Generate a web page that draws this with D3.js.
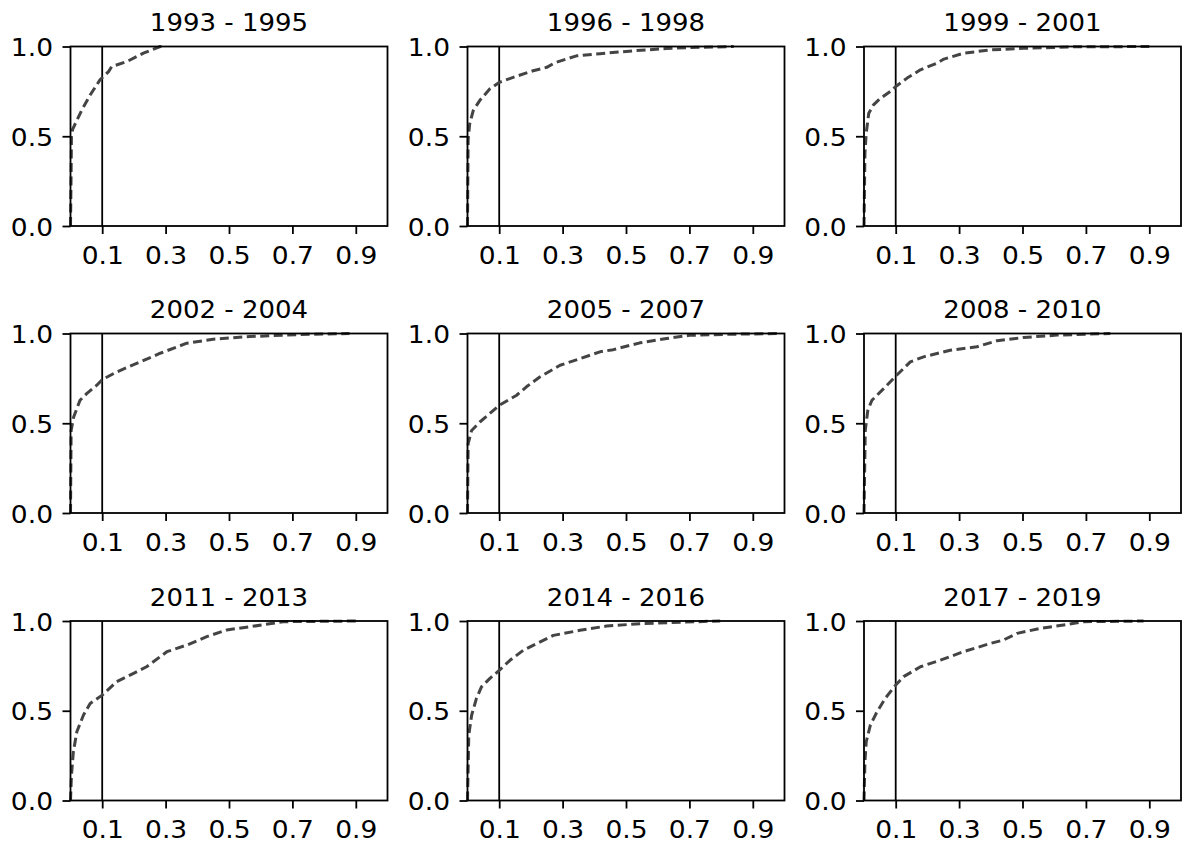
<!DOCTYPE html>
<html>
<head>
<meta charset="utf-8">
<script src="https://cdn.jsdelivr.net/npm/d3@7"></script>
<style>
  html, body { margin: 0; padding: 0; background: #fff; }
  svg { display: block; }
  text { font-family: "DejaVu Sans", sans-serif; fill: #000; }
</style>
</head>
<body>
<svg id="chart" width="1184" height="848"></svg>
<script>
// ---- data ----
const periods = ["1993 - 1995", "1996 - 1998", "1999 - 2001",
                 "2002 - 2004", "2005 - 2007", "2008 - 2010",
                 "2011 - 2013", "2014 - 2016", "2017 - 2019"];

const xTicks = [0.1, 0.3, 0.5, 0.7, 0.9];
const yTicks = [0.0, 0.5, 1.0];
const threshold = 0.1;

// CDF curves: [x, cumulative share]
const cdf1993 = [[0,0],[0.002,0.30],[0.003,0.50],[0.007,0.54],[0.036,0.647],[0.062,0.73],[0.093,0.814],[0.12,0.86],[0.13,0.888],[0.178,0.916],[0.23,0.963],[0.283,1.0],[0.30,1.0]];
const cdf1996 = [[0,0],[0.002,0.48],[0.007,0.57],[0.018,0.643],[0.039,0.70],[0.07,0.763],[0.1,0.80],[0.144,0.828],[0.207,0.865],[0.25,0.884],[0.276,0.91],[0.344,0.948],[0.418,0.96],[0.523,0.976],[0.628,0.989],[0.70,0.994],[0.84,1.0]];
const cdf1999 = [[0,0],[0.003,0.405],[0.007,0.517],[0.015,0.628],[0.03,0.675],[0.052,0.712],[0.083,0.749],[0.1,0.777],[0.136,0.824],[0.178,0.87],[0.23,0.907],[0.252,0.93],[0.315,0.963],[0.4,0.981],[0.504,0.99],[0.66,0.998],[0.9,1.0]];
const cdf2002 = [[0,0],[0.002,0.46],[0.01,0.535],[0.03,0.628],[0.051,0.665],[0.083,0.712],[0.1,0.743],[0.146,0.786],[0.22,0.842],[0.283,0.89],[0.367,0.946],[0.45,0.968],[0.566,0.983],[0.724,0.994],[0.88,1.0]];
const cdf2005 = [[0,0],[0.002,0.387],[0.013,0.46],[0.039,0.507],[0.07,0.554],[0.1,0.6],[0.155,0.656],[0.186,0.703],[0.228,0.758],[0.292,0.823],[0.355,0.86],[0.418,0.898],[0.46,0.91],[0.544,0.948],[0.628,0.972],[0.70,0.99],[0.84,0.996],[0.99,1.0]];
const cdf2008 = [[0,0],[0.004,0.46],[0.012,0.572],[0.025,0.628],[0.062,0.693],[0.1,0.762],[0.146,0.842],[0.188,0.87],[0.272,0.907],[0.356,0.926],[0.42,0.96],[0.504,0.978],[0.609,0.991],[0.777,1.0]];
const cdf2011 = [[0,0],[0.003,0.14],[0.009,0.271],[0.02,0.383],[0.041,0.476],[0.062,0.541],[0.1,0.587],[0.146,0.662],[0.199,0.708],[0.24,0.745],[0.304,0.829],[0.367,0.866],[0.43,0.913],[0.493,0.95],[0.566,0.968],[0.671,0.996],[0.9,1.0]];
const cdf2014 = [[0,0],[0.004,0.364],[0.013,0.475],[0.028,0.568],[0.044,0.633],[0.07,0.679],[0.1,0.725],[0.134,0.781],[0.176,0.837],[0.218,0.874],[0.271,0.92],[0.355,0.948],[0.439,0.972],[0.544,0.985],[0.681,0.994],[0.797,1.0]];
const cdf2017 = [[0,0],[0.003,0.216],[0.007,0.327],[0.02,0.42],[0.041,0.494],[0.067,0.569],[0.1,0.643],[0.125,0.69],[0.178,0.745],[0.241,0.782],[0.314,0.829],[0.399,0.875],[0.44,0.894],[0.483,0.931],[0.556,0.959],[0.63,0.978],[0.693,0.996],[0.882,1.0]];

const curves = [cdf1993, cdf1996, cdf1999, cdf2002, cdf2005, cdf2008, cdf2011, cdf2014, cdf2017];

// ---- layout ----
const colLeft = [70.5, 467.5, 864];
const rowTop = [46.5, 333.5, 621];
const pw = 317, ph = 179.5;
const stretch = 1.06;
const tickFont = 25, titleFont = 25.5;

const svg = d3.select("#chart");

periods.forEach((title, i) => {
  const r = Math.floor(i / 3), c = i % 3;
  const g = svg.append("g").attr("transform", `translate(${colLeft[c]},${rowTop[r]})`);
  const x = d3.scaleLinear().domain([0, 1]).range([0, pw]);
  const y = d3.scaleLinear().domain([0, 1]).range([ph, 0]);

  // threshold line
  g.append("line")
    .attr("x1", x(threshold)).attr("x2", x(threshold))
    .attr("y1", y(0)).attr("y2", y(1))
    .attr("stroke", "#000").attr("stroke-width", 1.8);

  // CDF curve
  const line = d3.line().x(d => x(d[0])).y(d => y(d[1]));
  g.append("path")
    .datum(curves[i])
    .attr("d", line)
    .attr("fill", "none")
    .attr("stroke", "#444")
    .attr("stroke-width", 3)
    .attr("stroke-dasharray", "9,4.5")
    .attr("stroke-linejoin", "round");

  // axes
  const xa = g.append("g").attr("transform", `translate(0,${ph})`)
    .call(d3.axisBottom(x).tickValues(xTicks).tickSize(8).tickFormat(d3.format(".1f")));
  const ya = g.append("g")
    .call(d3.axisLeft(y).tickValues(yTicks).tickSize(8).tickFormat(d3.format(".1f")));
  [xa, ya].forEach(a => {
    a.select(".domain").remove();
    a.selectAll(".tick line").attr("stroke", "#000").attr("stroke-width", 1.8);
    a.selectAll(".tick text").attr("font-size", tickFont).attr("font-family", "DejaVu Sans").attr("fill", "#000");
  });
  xa.selectAll(".tick text")
    .attr("y", 0).attr("dy", null)
    .attr("transform", `translate(0,37.5) scale(${stretch},1)`);
  ya.selectAll(".tick text")
    .attr("x", 0).attr("dy", "0.36em")
    .attr("transform", `translate(-17.5,0) scale(${stretch},1)`);

  // frame
  g.append("rect")
    .attr("x", 0).attr("y", 0).attr("width", pw).attr("height", ph)
    .attr("fill", "none").attr("stroke", "#000").attr("stroke-width", 1.8);

  // title
  g.append("text")
    .attr("transform", `translate(${pw / 2},-15.5) scale(1.02,1)`)
    .attr("text-anchor", "middle")
    .attr("font-size", titleFont)
    .text(title);
});
</script>
</body>
</html>
